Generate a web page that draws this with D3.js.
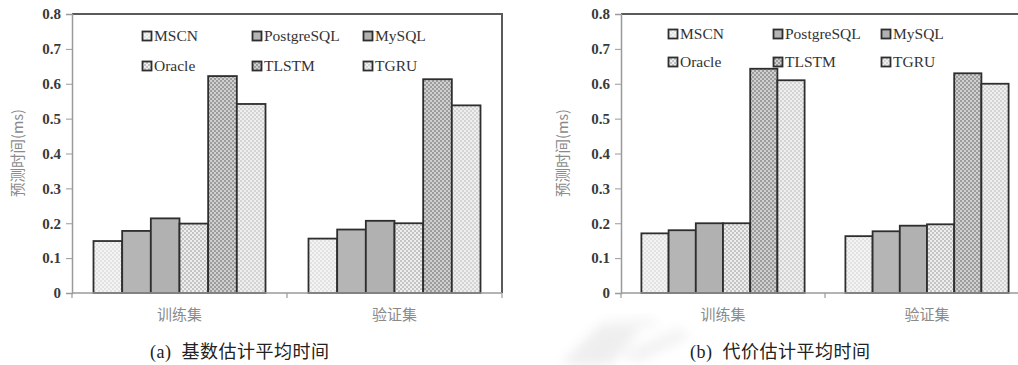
<!DOCTYPE html>
<html>
  <head>
    <meta charset="utf-8">
    <script src="https://cdn.jsdelivr.net/npm/d3@7"></script>
    <style>
      body { margin: 0; background: #fff; }
      svg { display: block; }
    </style>
  </head>
  <body>
    <script>
      // categories and series
      var categories = ["训练集", "验证集"];
      var series = ["MSCN", "PostgreSQL", "MySQL", "Oracle", "TLSTM", "TGRU"];
      var yTicks = [0, 0.1, 0.2, 0.3, 0.4, 0.5, 0.6, 0.7, 0.8];

      // (a) cardinality estimation, (b) cost estimation
      var cardTrain = [0.149, 0.178, 0.214, 0.199, 0.622, 0.542];
      var cardVal = [0.156, 0.182, 0.207, 0.200, 0.613, 0.538];
      var costTrain = [0.171, 0.180, 0.200, 0.200, 0.643, 0.610];
      var costVal = [0.163, 0.177, 0.193, 0.197, 0.630, 0.600];

      var yTitle = "预测时间(ms)";
      var captions = ["(a)  基数估计平均时间", "(b)  代价估计平均时间"];

      var width = 1018;
      var height = 365;

      var svg = d3.select("body")
                  .append("svg")
                  .attr("width", width)
                  .attr("height", height);

      var defs = svg.append("defs");

      // fill patterns, one per series
      function checker(id, a, b, size) {
        var p = defs.append("pattern")
                    .attr("id", id)
                    .attr("patternUnits", "userSpaceOnUse")
                    .attr("width", size * 2)
                    .attr("height", size * 2);
        p.append("rect").attr("width", size * 2).attr("height", size * 2).attr("fill", a);
        p.append("rect").attr("width", size).attr("height", size).attr("fill", b);
        p.append("rect").attr("x", size).attr("y", size)
         .attr("width", size).attr("height", size).attr("fill", b);
      }
      checker("p0", "#f4f4f4", "#e2e2e2", 2);
      checker("p1", "#b5b5b5", "#b5b5b5", 2);
      checker("p2", "#b1b1b1", "#b1b1b1", 2);
      checker("p3", "#eeeeee", "#c4c4c4", 2);
      checker("p4", "#d0d0d0", "#9c9c9c", 2);
      checker("p5", "#efefef", "#d4d4d4", 2);

      // watermark blur
      defs.append("filter").attr("id", "blur")
          .append("feGaussianBlur").attr("stdDeviation", 6);
      var wm = svg.append("g").attr("filter", "url(#blur)").attr("opacity", 0.35);
      wm.append("path")
        .attr("d", "M560,365 L600,325 L640,330 L610,365 Z")
        .attr("fill", "#cfcfcf");
      wm.append("path")
        .attr("d", "M620,355 L680,328 L690,336 L640,362 Z")
        .attr("fill", "#d8d8d8");
      wm.append("path")
        .attr("d", "M600,322 L650,318 L660,326 L615,330 Z")
        .attr("fill", "#dddddd");

      var panels = [
        {left: 72, right: 502, train: cardTrain, val: cardVal,
         legendX: [147, 257, 368], legendY: [36, 66],
         titleX: 18, caption: captions[0], captionX: 150},
        {left: 621, right: 1029, train: costTrain, val: costVal,
         legendX: [673, 778, 886], legendY: [34, 62],
         titleX: 563, caption: captions[1], captionX: 690}
      ];

      var plotTop = 14;
      var plotBottom = 293;

      panels.forEach(function(pn) {
        var g = svg.append("g");
        var rows = [pn.train, pn.val];

        var yScale = d3.scaleLinear()
                       .domain([0, 0.8])
                       .range([plotBottom, plotTop]);
        var x0 = d3.scaleBand()
                   .domain(categories)
                   .range([pn.left, pn.right])
                   .paddingInner(0.2)
                   .paddingOuter(0.1);
        var x1 = d3.scaleBand()
                   .domain(series)
                   .range([0, x0.bandwidth()]);

        // plot frame: top and right border
        g.append("path")
         .attr("d", "M" + pn.left + "," + plotTop + "H" + pn.right + "V" + plotBottom)
         .attr("fill", "none")
         .attr("stroke", "#5a5a5a")
         .attr("stroke-width", 2);

        // bars
        categories.forEach(function(c, ci) {
          g.append("g")
           .selectAll("rect")
           .data(rows[ci])
           .enter()
           .append("rect")
           .attr("x", function(d, i) { return x0(c) + x1(series[i]); })
           .attr("y", function(d) { return yScale(d); })
           .attr("width", x1.bandwidth())
           .attr("height", function(d) { return plotBottom - yScale(d); })
           .attr("fill", function(d, i) { return "url(#p" + i + ")"; })
           .attr("stroke", "#2e2e2e")
           .attr("stroke-width", 1.8);
        });

        // y axis
        var yAxis = d3.axisLeft(yScale)
                      .tickValues(yTicks)
                      .tickSize(6)
                      .tickPadding(5)
                      .tickFormat(function(d) { return d === 0 ? "0" : d3.format(".1f")(d); });
        var ya = g.append("g")
                  .attr("transform", "translate(" + pn.left + ",0)")
                  .call(yAxis);
        ya.select(".domain").attr("stroke", "#9a9a9a").attr("stroke-width", 1.5);
        ya.selectAll(".tick line").attr("stroke", "#9a9a9a");
        ya.selectAll("text")
          .attr("fill", "#3a3a3a")
          .style("font-family", "'Liberation Serif', serif")
          .style("font-weight", "bold")
          .style("font-size", "15px");

        // x axis
        var xTicks = [pn.left, x0(categories[1]) - x0.step() * 0.1, pn.right];
        g.append("line")
         .attr("x1", pn.left).attr("x2", pn.right)
         .attr("y1", plotBottom).attr("y2", plotBottom)
         .attr("stroke", "#9a9a9a").attr("stroke-width", 1.5);
        g.selectAll(".xt")
         .data(xTicks)
         .enter()
         .append("line")
         .attr("x1", function(d) { return d; }).attr("x2", function(d) { return d; })
         .attr("y1", plotBottom).attr("y2", plotBottom + 5)
         .attr("stroke", "#9a9a9a").attr("stroke-width", 1.2);
        g.selectAll(".xl")
         .data(categories)
         .enter()
         .append("text")
         .attr("x", function(d) { return x0(d) + x0.bandwidth() / 2; })
         .attr("y", 320)
         .attr("text-anchor", "middle")
         .attr("fill", "#8a8a8a")
         .style("font-family", "'Noto Sans CJK SC', sans-serif")
         .style("font-size", "15px")
         .text(function(d) { return d; });

        // y axis title
        g.append("text")
         .attr("transform", "translate(" + pn.titleX + "," + 153 + ") rotate(-90)")
         .attr("text-anchor", "middle")
         .attr("dy", "0.35em")
         .attr("fill", "#8a8a8a")
         .style("font-family", "'Noto Sans CJK SC', sans-serif")
         .style("font-size", "14.5px")
         .text(yTitle);

        // legend
        series.forEach(function(s, i) {
          var lx = pn.legendX[i % 3];
          var ly = pn.legendY[Math.floor(i / 3)];
          g.append("rect")
           .attr("x", lx - 4.5).attr("y", ly - 4.5)
           .attr("width", 9).attr("height", 9)
           .attr("fill", "url(#p" + i + ")")
           .attr("stroke", "#2e2e2e")
           .attr("stroke-width", 1.8);
          g.append("text")
           .attr("x", lx + 7).attr("y", ly)
           .attr("dy", "0.35em")
           .attr("fill", "#333")
           .style("font-family", "'Liberation Serif', serif")
           .style("font-size", "15.5px")
           .text(s);
        });

        // caption
        g.append("text")
         .attr("x", pn.captionX).attr("y", 358)
         .attr("fill", "#222")
         .style("font-family", "'Liberation Serif', 'Noto Sans CJK SC', serif")
         .style("font-size", "18px")
         .style("letter-spacing", "0.5px")
         .style("white-space", "pre")
         .text(pn.caption);
      });
    </script>
  </body>
</html>
